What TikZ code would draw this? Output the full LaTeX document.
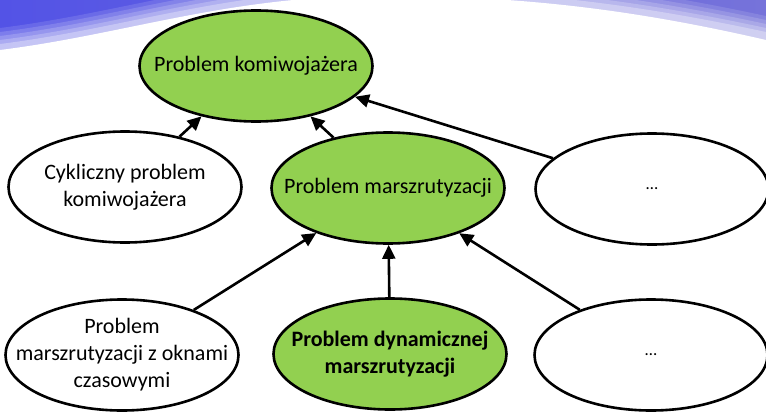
\documentclass[tikz,border=0pt]{standalone}
\usepackage{fontspec}
\setmainfont{Carlito}
\usetikzlibrary{shapes.geometric,arrows.meta}
\definecolor{leaf}{HTML}{92D050}
\definecolor{bandblue}{HTML}{5353E6}
\definecolor{bandlilac}{HTML}{7673DA}
\begin{document}
\begin{tikzpicture}[x=1pt,y=-1pt,
  oval/.style={ellipse, draw=black, line width=2.6pt, fill=white,
    minimum width=233pt, minimum height=111pt, inner sep=-60pt,
    align=center, font=\fontsize{22}{27}\selectfont},
  green/.style={oval, fill=leaf},
  dots/.style={font=\fontsize{17}{20}\selectfont},
  link/.style={line width=2.6pt, -{Triangle[length=14pt,width=13pt]}}]
  % page and header band
  \useasboundingbox (0,0) rectangle (766,415);
  \fill[white] (0,0) rectangle (766,415);
  \shade[left color=bandblue, right color=bandlilac] (0,0) rectangle (766,70);
  \foreach \s/\o in {20/0.12,16/0.15,12/0.18,8/0.22,4/0.3} {
    \fill[white, opacity=\o]
      (0,48-\s) .. controls (120,33-\s) and (220,-3-\s) .. (360,-6-\s)
      .. controls (520,-8-\s) and (640,9-\s) .. (766,36-\s)
      -- (766,80) -- (0,80) -- cycle;
  }
  \fill[white]
    (0,50) .. controls (120,35) and (220,-1) .. (360,-4)
    .. controls (520,-6) and (640,11) .. (766,40)
    -- (766,80) -- (0,80) -- cycle;

  % nodes
  \node[green] (tsp) at (256,66) {Problem komiwojażera};
  \node[oval]  (ctsp) at (125,187) {Cykliczny problem\\komiwojażera};
  \node[green] (vrp) at (388,188) {Problem marszrutyzacji};
  \node[oval, dots] (more1) at (652,189) {\ldots};
  \node[oval]  (vrptw) at (122,355) {Problem\\marszrutyzacji z oknami\\czasowymi};
  \node[green, font=\fontsize{22}{27}\selectfont\bfseries] (dvrp) at (390,354) {Problem dynamicznej\\marszrutyzacji};
  \node[oval, dots] (more2) at (651,355) {\ldots};

  % connectors
  \draw[link] (ctsp) -- (tsp);
  \draw[link] (vrp) -- (tsp);
  \draw[link] (more1) -- (tsp);
  \draw[link] (vrptw) -- (vrp);
  \draw[link] (dvrp) -- (vrp);
  \draw[link] (more2) -- (vrp);
\end{tikzpicture}
\end{document}
